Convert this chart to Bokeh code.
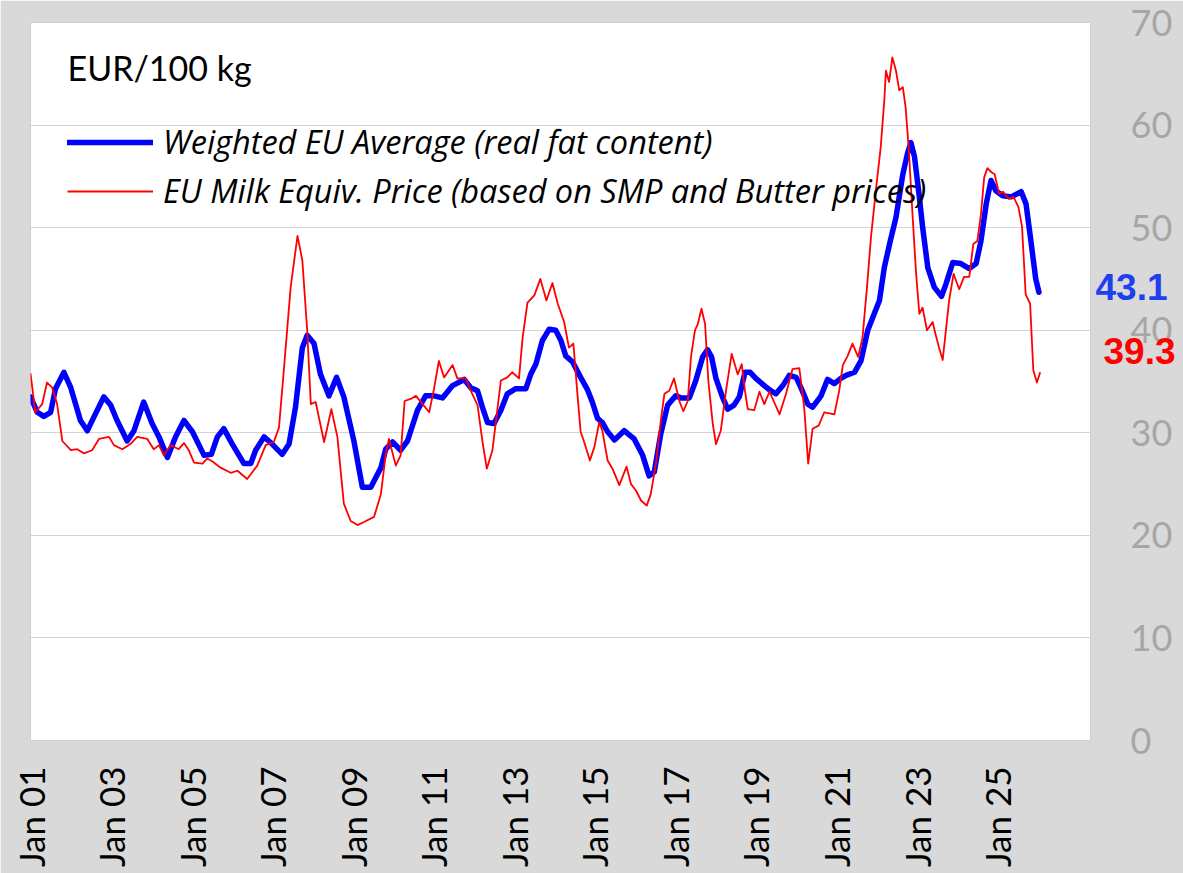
import math
import re
from bokeh.plotting import figure
from bokeh.models import Range1d, FixedTicker, Legend, LegendItem, Label, LinearAxis
from bokeh.embed import file_html
from bokeh.resources import INLINE

# ---------------- data (decimal year, EUR/100 kg) ----------------
blue_t = [2001.00, 2001.17, 2001.33, 2001.50, 2001.62, 2001.83, 2002.00, 2002.24, 2002.41, 2002.57,
          2002.82, 2002.99, 2003.15, 2003.40, 2003.57, 2003.81, 2004.02, 2004.19, 2004.40, 2004.60,
          2004.81, 2005.02, 2005.31, 2005.49, 2005.64, 2005.80, 2006.01, 2006.30, 2006.47, 2006.59,
          2006.80, 2007.00, 2007.25, 2007.42, 2007.58, 2007.75, 2007.87, 2008.04, 2008.20, 2008.41,
          2008.60, 2008.78, 2009.03, 2009.24, 2009.45, 2009.70, 2009.82, 2009.99, 2010.19, 2010.36,
          2010.61, 2010.81, 2011.02, 2011.23, 2011.48, 2011.77, 2011.93, 2012.10, 2012.22, 2012.35,
          2012.51, 2012.68, 2012.84, 2013.05, 2013.30, 2013.42, 2013.55, 2013.71, 2013.88, 2014.04,
          2014.17, 2014.29, 2014.46, 2014.66, 2014.83, 2014.95, 2015.08, 2015.20, 2015.33, 2015.50,
          2015.74, 2015.99, 2016.20, 2016.36, 2016.49, 2016.65, 2016.82, 2017.02, 2017.15, 2017.36,
          2017.52, 2017.69, 2017.81, 2017.91, 2018.02, 2018.18, 2018.31, 2018.47, 2018.60, 2018.74,
          2018.87, 2019.01, 2019.22, 2019.38, 2019.51, 2019.68, 2019.84, 2020.01, 2020.13, 2020.30,
          2020.42, 2020.63, 2020.79, 2020.96, 2021.12, 2021.25, 2021.46, 2021.62, 2021.79, 2021.95,
          2022.08, 2022.20, 2022.33, 2022.49, 2022.66, 2022.78, 2022.86, 2022.95, 2023.07, 2023.15,
          2023.28, 2023.44, 2023.62, 2023.73, 2023.90, 2024.10, 2024.31, 2024.48, 2024.60, 2024.73,
          2024.85, 2024.97, 2025.14, 2025.35, 2025.60, 2025.72, 2025.84, 2025.96, 2026.04]
blue_v = [33.5, 32.0, 31.6, 32.0, 34.3, 35.9, 34.4, 31.2, 30.2, 31.5,
          33.5, 32.7, 31.2, 29.2, 30.2, 33.0, 30.9, 29.6, 27.6, 29.6,
          31.2, 30.1, 27.8, 27.9, 29.6, 30.4, 28.9, 27.0, 27.0, 28.3,
          29.6, 28.9, 27.9, 28.9, 32.5, 38.3, 39.5, 38.7, 35.7, 33.6,
          35.4, 33.5, 29.2, 24.7, 24.7, 26.6, 28.4, 29.1, 28.3, 29.2,
          32.2, 33.6, 33.6, 33.4, 34.6, 35.2, 34.4, 34.1, 32.5, 31.0,
          30.9, 32.2, 33.8, 34.3, 34.3, 35.7, 36.7, 39.0, 40.1, 40.0,
          39.0, 37.5, 36.9, 35.4, 34.2, 33.0, 31.4, 31.0, 30.1, 29.3,
          30.2, 29.4, 27.8, 25.8, 26.2, 29.9, 32.7, 33.6, 33.4, 33.4,
          35.1, 37.4, 38.1, 37.4, 35.3, 33.5, 32.3, 32.7, 33.5, 35.9,
          35.9, 35.3, 34.6, 34.1, 33.8, 34.6, 35.6, 35.4, 34.4, 32.8,
          32.5, 33.6, 35.2, 34.8, 35.3, 35.6, 35.9, 37.0, 40.0, 41.6,
          42.9, 46.1, 48.4, 51.0, 55.2, 57.3, 58.3, 56.9, 53.0, 50.1,
          46.1, 44.2, 43.3, 44.5, 46.6, 46.5, 46.0, 46.5, 48.7, 52.3,
          54.6, 53.6, 53.1, 53.0, 53.5, 52.3, 48.7, 45.0, 43.7]

red_t = [2001.00, 2001.12, 2001.29, 2001.41, 2001.54, 2001.66, 2001.79, 2002.00, 2002.16, 2002.32,
         2002.53, 2002.70, 2002.95, 2003.07, 2003.28, 2003.48, 2003.65, 2003.90, 2004.06, 2004.19,
         2004.31, 2004.48, 2004.68, 2004.81, 2004.93, 2005.06, 2005.27, 2005.39, 2005.52, 2005.72,
         2005.97, 2006.14, 2006.38, 2006.63, 2006.84, 2007.04, 2007.17, 2007.29, 2007.46, 2007.63,
         2007.75, 2007.87, 2007.96, 2008.08, 2008.29, 2008.47, 2008.62, 2008.78, 2008.95, 2009.12,
         2009.28, 2009.53, 2009.70, 2009.82, 2009.90, 2010.07, 2010.19, 2010.29, 2010.44, 2010.57,
         2010.90, 2011.02, 2011.14, 2011.27, 2011.48, 2011.60, 2011.81, 2011.93, 2012.10, 2012.22,
         2012.33, 2012.47, 2012.59, 2012.68, 2012.84, 2012.96, 2013.13, 2013.22, 2013.34, 2013.51,
         2013.66, 2013.81, 2013.96, 2014.09, 2014.25, 2014.37, 2014.48, 2014.58, 2014.66, 2014.74,
         2014.89, 2015.00, 2015.12, 2015.20, 2015.33, 2015.45, 2015.62, 2015.70, 2015.80, 2015.91,
         2016.03, 2016.16, 2016.30, 2016.40, 2016.53, 2016.65, 2016.74, 2016.86, 2016.98, 2017.11,
         2017.21, 2017.32, 2017.40, 2017.50, 2017.57, 2017.66, 2017.75, 2017.83, 2017.94, 2018.02,
         2018.14, 2018.27, 2018.41, 2018.56, 2018.66, 2018.74, 2018.81, 2018.97, 2019.10, 2019.22,
         2019.35, 2019.60, 2019.76, 2019.92, 2020.09, 2020.21, 2020.31, 2020.42, 2020.57, 2020.71,
         2020.96, 2021.08, 2021.17, 2021.29, 2021.41, 2021.55, 2021.66, 2021.77, 2021.87, 2021.99,
         2022.11, 2022.20, 2022.24, 2022.32, 2022.40, 2022.49, 2022.57, 2022.66, 2022.73, 2022.81,
         2022.90, 2022.99, 2023.07, 2023.15, 2023.26, 2023.40, 2023.48, 2023.56, 2023.65, 2023.73,
         2023.81, 2023.92, 2024.06, 2024.18, 2024.31, 2024.41, 2024.51, 2024.60, 2024.68, 2024.76,
         2024.86, 2024.94, 2025.05, 2025.15, 2025.29, 2025.41, 2025.53, 2025.62, 2025.71, 2025.82,
         2025.90, 2025.99, 2026.07]
red_v = [35.8, 32.0, 32.8, 34.9, 34.4, 32.8, 29.2, 28.3, 28.4, 28.0,
         28.3, 29.4, 29.6, 28.8, 28.4, 28.9, 29.6, 29.4, 28.4, 28.8,
         27.8, 28.8, 28.4, 29.0, 28.3, 27.1, 27.0, 27.5, 27.2, 26.6,
         26.1, 26.3, 25.5, 26.8, 28.8, 29.1, 30.5, 36.1, 44.2, 49.2,
         46.8, 40.0, 32.8, 33.0, 29.1, 32.3, 29.6, 23.1, 21.4, 21.0,
         21.3, 21.8, 24.0, 27.9, 29.4, 26.8, 27.8, 33.1, 33.3, 33.6,
         32.0, 34.3, 37.0, 35.4, 36.6, 35.3, 35.3, 34.1, 32.7, 29.2,
         26.5, 28.3, 32.2, 35.1, 35.4, 35.9, 35.3, 39.3, 42.7, 43.4,
         45.0, 42.9, 44.6, 42.6, 40.8, 38.3, 38.7, 33.8, 30.1, 29.2,
         27.3, 28.6, 31.0, 30.2, 27.3, 26.5, 24.9, 25.7, 26.7, 25.0,
         24.4, 23.4, 22.9, 24.0, 27.0, 31.2, 33.8, 34.1, 35.3, 33.1,
         32.1, 33.1, 37.4, 40.0, 40.6, 42.1, 40.6, 35.1, 30.9, 28.9,
         30.2, 34.1, 37.7, 35.7, 36.7, 34.1, 32.3, 32.2, 34.0, 32.8,
         34.0, 31.8, 33.8, 36.2, 36.3, 32.5, 27.0, 30.4, 30.7, 32.0,
         31.8, 34.1, 36.6, 37.5, 38.7, 37.4, 39.3, 44.2, 49.1, 53.6,
         57.8, 62.4, 65.3, 64.2, 66.6, 65.3, 63.4, 63.7, 61.7, 57.5,
         51.3, 45.5, 41.6, 42.2, 40.0, 40.8, 39.5, 38.3, 37.1, 40.0,
         42.9, 45.5, 44.0, 45.2, 45.2, 48.4, 48.7, 51.3, 54.9, 55.8,
         55.4, 55.2, 53.3, 53.5, 52.8, 53.0, 52.0, 50.1, 43.5, 42.6,
         36.1, 34.9, 35.9]

x_ticks = [2001, 2003, 2005, 2007, 2009, 2011, 2013, 2015, 2017, 2019, 2021, 2023, 2025]
x_tick_labels = ["Jan 01", "Jan 03", "Jan 05", "Jan 07", "Jan 09", "Jan 11", "Jan 13",
                 "Jan 15", "Jan 17", "Jan 19", "Jan 21", "Jan 23", "Jan 25"]
y_ticks = [0, 10, 20, 30, 40, 50, 60, 70]

series_names = ["Weighted EU Average (real fat content)",
                "EU Milk Equiv. Price (based on SMP and Butter prices)"]
last_labels = ["43.1", "39.3"]
unit_title = "EUR/100 kg"

X_START, X_END = 2001.0, 2027.32

# ---------------- figure ----------------
GREY_BG = "#d9d9d9"
p = figure(frame_width=1060, frame_height=718,
           min_border_left=30, min_border_top=22, min_border_right=93, min_border_bottom=133,
           x_range=Range1d(X_START, X_END), y_range=Range1d(0, 70),
           y_axis_location="right", output_backend="svg", toolbar_location=None)
p.background_fill_color = "white"
p.border_fill_color = GREY_BG
p.outline_line_color = "#cfcfcf"
p.outline_line_width = 1

p.xgrid.grid_line_color = None
p.ygrid.grid_line_color = "#d4d4d4"
p.ygrid.grid_line_width = 1.2
p.ygrid.ticker = FixedTicker(ticks=y_ticks)

xa = p.xaxis[0]
xa.ticker = FixedTicker(ticks=x_ticks)
xa.major_label_overrides = {t: l for t, l in zip(x_ticks, x_tick_labels)}
xa.major_label_orientation = math.pi / 2
xa.axis_line_color = None
xa.major_tick_line_color = None
xa.minor_tick_line_color = None
xa.major_label_standoff = 20
xa.major_label_text_font = "Lato"
xa.major_label_text_font_size = "35px"
xa.major_label_text_color = "#000000"

ya = p.yaxis[0]
ya.ticker = FixedTicker(ticks=y_ticks)
ya.axis_line_color = None
ya.major_tick_line_color = None
ya.minor_tick_line_color = None
ya.major_tick_out = 0
ya.minor_tick_out = 0
ya.major_label_standoff = 40
ya.major_label_text_font = "Lato"
ya.major_label_text_font_size = "36px"
ya.major_label_text_color = "#a6a6a6"

r_blue = p.line(blue_t, blue_v, line_color="#0000ff", line_width=5.5, line_join="round", line_cap="round")
r_red = p.line(red_t, red_v, line_color="#ff0000", line_width=1.8, line_join="round")

legend = Legend(items=[LegendItem(label=series_names[0], renderers=[r_blue]),
                       LegendItem(label=series_names[1], renderers=[r_red])],
                location=(37, 527), orientation="vertical",
                padding=0, margin=0, spacing=4,
                glyph_width=86, glyph_height=40, label_height=40, label_standoff=10,
                label_text_font="Open Sans", label_text_font_style="italic",
                label_text_font_size="32.5px", label_text_color="#000000",
                background_fill_alpha=0, border_line_alpha=0)
p.add_layout(legend)

p.add_layout(Label(x=2001.92, y=65.6, text=unit_title, text_font="Lato", text_font_size="34px",
                   text_color="#000000", text_align="left", text_baseline="middle"))

# latest-value call-outs: single-tick axes stacked in the right panel after the value axis,
# pulled back next to the frame with a negative standoff
def value_axis(tick_pos, text, color, standoff):
    ax = LinearAxis(ticker=FixedTicker(ticks=[tick_pos]),
                    major_label_overrides={tick_pos: text})
    ax.axis_line_color = None
    ax.major_tick_line_color = None
    ax.minor_tick_line_color = None
    ax.major_tick_out = 0
    ax.minor_tick_out = 0
    ax.major_tick_in = 0
    ax.minor_tick_in = 0
    ax.major_label_standoff = standoff
    ax.major_label_text_font = "Liberation Sans"
    ax.major_label_text_font_style = "bold"
    ax.major_label_text_font_size = "37px"
    ax.major_label_text_color = color
    return ax

p.add_layout(value_axis(44.2, last_labels[0], "#2040f0", -80), "right")
p.add_layout(value_axis(38.0, last_labels[1], "#ff0000", -72), "right")

html = file_html(p, INLINE)
html = re.sub(r"<body>", '<body style="background-color:#d9d9d9;">', html, count=1)
open("out.html", "w").write(html)
